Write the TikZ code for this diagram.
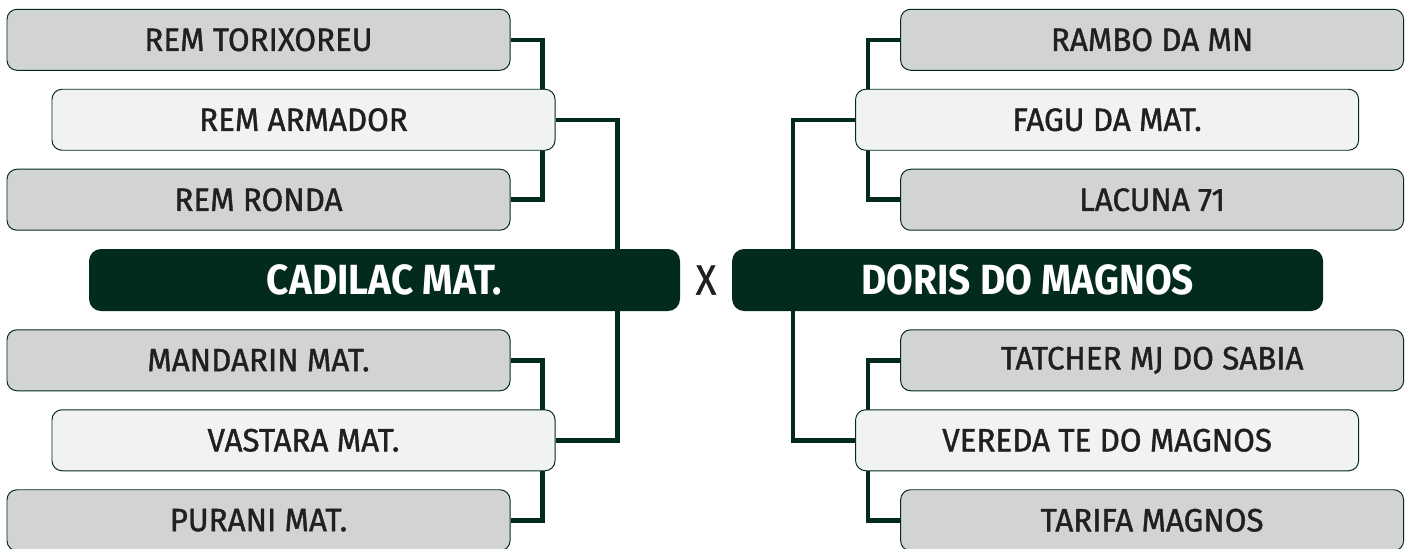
\documentclass[tikz,border=0pt]{standalone}
\usepackage{fontspec}
\setmainfont{Fira Sans}
\usetikzlibrary{positioning,backgrounds}
\definecolor{pine}{HTML}{032B1B}
\definecolor{slotgray}{HTML}{D1D3D4}
\definecolor{slotlight}{HTML}{F1F2F3}
\definecolor{ink}{HTML}{231F20}

\begin{document}
\begin{tikzpicture}[node distance=0.45cm,
    slot/.style={draw=pine,line width=0.7pt,rounded corners=0.25cm,fill=slotgray,text=ink,
      minimum width=12.575cm,minimum height=1.525cm,inner sep=0pt,
      font=\fontsize{23}{27}\selectfont\addfontfeature{FakeStretch=0.97,FakeBold=1.2}},
    semi/.style={slot,fill=slotlight},
    final/.style={rounded corners=0.3cm,fill=pine,text=white,minimum width=14.775cm,minimum height=1.55cm,
      inner sep=0pt,font=\fontsize{30}{35}\selectfont\bfseries\addfontfeature{FakeStretch=0.92}},
    link/.style={draw=pine,line width=3.2pt}]
  \useasboundingbox (0,0) rectangle (35.225,-13.7);
  \node[final] (cadilac) at (9.6125,-7) {CADILAC MAT.};
  \node[right=0pt of cadilac,minimum width=1.275cm,inner sep=0pt,text=ink,
    font=\fontsize{30}{35}\selectfont\addfontfeature{FakeStretch=0.9,FakeBold=1}] (vs) {X};
  \node[final,right=0pt of vs] (doris) {DORIS DO MAGNOS};
  \node[slot,above=of cadilac,xshift=-3.15cm] (ronda) {REM RONDA};
  \node[semi,above=of ronda,xshift=1.125cm] (armador) {REM ARMADOR};
  \node[slot,above=of armador,xshift=-1.125cm] (torix) {REM TORIXOREU};
  \node[slot,below=of cadilac,xshift=-3.15cm] (mandarin) {MANDARIN MAT.};
  \node[semi,below=of mandarin,xshift=1.125cm] (vastara) {VASTARA MAT.};
  \node[slot,below=of vastara,xshift=-1.125cm] (purani) {PURANI MAT.};
  \node[slot,above=of doris,xshift=3.1125cm] (lacuna) {LACUNA 71};
  \node[semi,above=of lacuna,xshift=-1.125cm] (fagu) {FAGU DA MAT.};
  \node[slot,above=of fagu,xshift=1.125cm] (rambo) {RAMBO DA MN};
  \node[slot,below=of doris,xshift=3.1125cm] (tatcher) {TATCHER MJ DO SABIA};
  \node[semi,below=of tatcher,xshift=-1.125cm] (vereda) {VEREDA TE DO MAGNOS};
  \node[slot,below=of vereda,xshift=1.125cm] (tarifa) {TARIFA MAGNOS};
  \begin{scope}[on background layer]
    \draw[link] (torix.east) -- ++(0.8,0) |- (ronda.east);
    \draw[link] (armador.east) -- ++(1.55,0) |- (vastara.east);
    \draw[link] (mandarin.east) -- ++(0.8,0) |- (purani.east);
    \draw[link] (rambo.west) -- ++(-0.8,0) |- (lacuna.west);
    \draw[link] (fagu.west) -- ++(-1.55,0) |- (vereda.west);
    \draw[link] (tatcher.west) -- ++(-0.8,0) |- (tarifa.west);
  \end{scope}
\end{tikzpicture}
\end{document}
